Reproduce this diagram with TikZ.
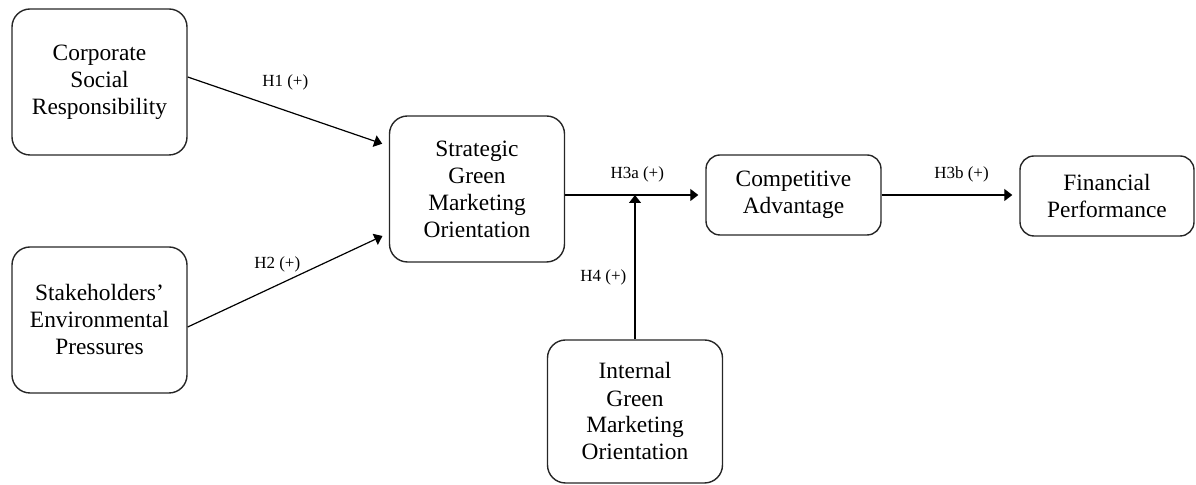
\documentclass[tikz,border=0pt]{standalone}
\usepackage{fontspec}
\setmainfont{Liberation Serif}
\usetikzlibrary{arrows.meta, positioning}

\begin{document}
\begin{tikzpicture}[x=0.5pt,y=-0.5pt,>={Triangle[length=4pt,width=6pt]},shorten >=3.5pt,
  line width=0.6pt,
  big node/.style={draw=black!85,rounded corners=9pt,align=center,minimum width=87.5pt,minimum height=73pt,
    inner sep=0pt,line width=0.7pt,font=\fontsize{11.7}{13.5}\selectfont},
  small node/.style={big node,rounded corners=7pt,minimum height=40pt},
  hyp/.style={font=\fontsize{8.5}{10}\selectfont,inner sep=1pt}]

  \useasboundingbox (0,0) rectangle (1196,485);

  \node[big node] (csr) at (99.5,82) {Corporate\\Social\\Responsibility};
  \node[big node] (sep) at (99.5,320) {Stakeholders'\\Environmental\\Pressures};
  \node[big node] (sgmo) at (477,189) {Strategic\\Green\\Marketing\\Orientation};
  \node[small node] (ca) at (793.5,195) {Competitive\\Advantage};
  \node[small node, minimum width=87pt] (fp) at (1107,196) {Financial\\Performance};
  \node[big node, minimum height=71.5pt] (igmo) at (635,411.5) {Internal\\Green\\Marketing\\Orientation};

  \coordinate (meet) at (igmo.north |- ca.west);

  \draw[->] ([yshift=2.5pt]csr.east) -- node[hyp,above=9.5pt,xshift=-1.5pt] {H1 (+)} ([yshift=21.5pt]sgmo.west);
  \draw[->] ([yshift=-3.5pt]sep.east) -- node[hyp,above=2.5pt,xshift=-5.5pt] {H2 (+)} ([yshift=-22pt]sgmo.west);
  \draw[->] (sgmo.east |- ca.west) -- node[hyp,above=5.25pt,xshift=1pt] {H3a (+)} (ca.west);
  \draw[->] (ca.east) -- node[hyp,above=5.25pt,xshift=5.5pt] {H3b (+)} (ca.east -| fp.west);
  \draw[->,shorten >=0pt] (igmo.north) -- node[hyp,left=3pt,pos=0.43] {H4 (+)} (meet);
\end{tikzpicture}
\end{document}
